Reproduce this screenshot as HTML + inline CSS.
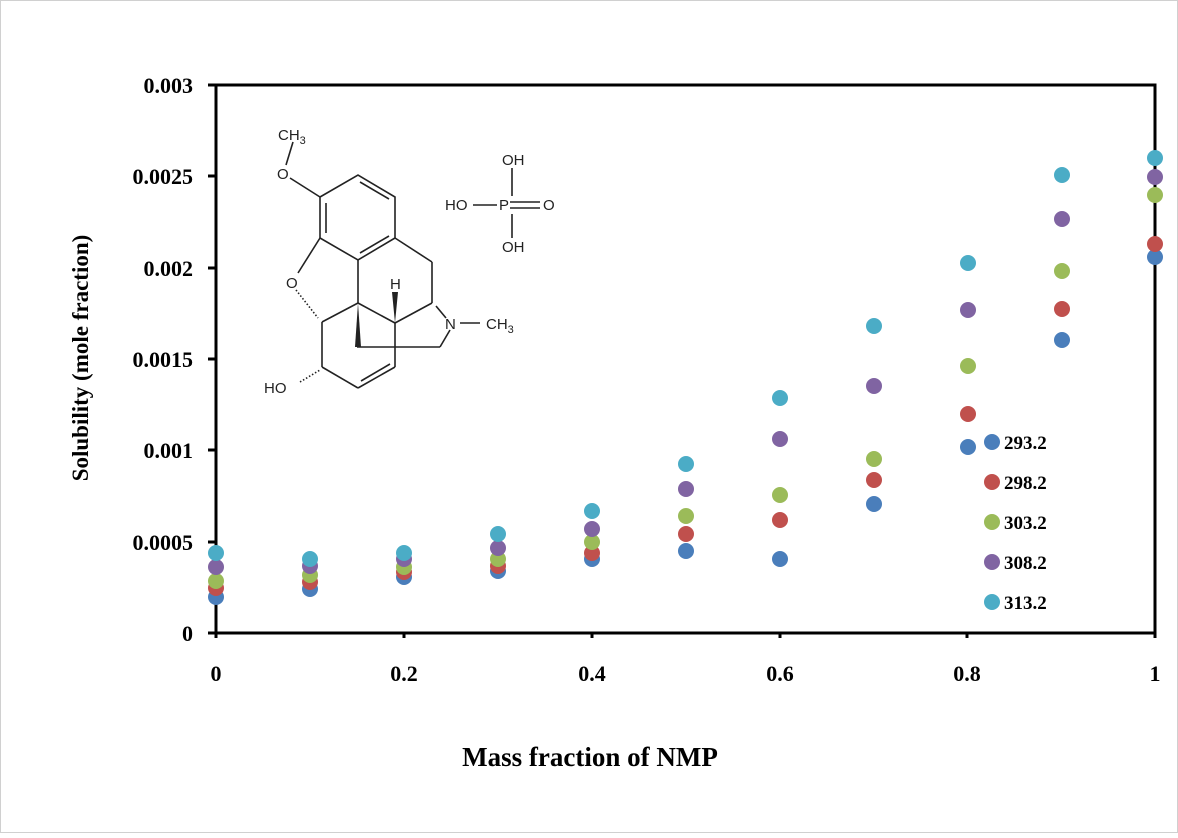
<!DOCTYPE html>
<html><head><style>body{margin:0;background:#fff}</style></head><body>
<svg width="1178" height="833" xmlns="http://www.w3.org/2000/svg" font-family="Liberation Serif, serif">
<rect x="0.5" y="0.5" width="1177" height="832" fill="#fff" stroke="#d0d0d0"/>
<rect x="216" y="85" width="939" height="548" fill="none" stroke="#000" stroke-width="3"/>
<g stroke="#000" stroke-width="3">
<line x1="208" y1="85" x2="216" y2="85"/><line x1="208" y1="176" x2="216" y2="176"/><line x1="208" y1="268" x2="216" y2="268"/><line x1="208" y1="359" x2="216" y2="359"/><line x1="208" y1="450" x2="216" y2="450"/><line x1="208" y1="542" x2="216" y2="542"/><line x1="208" y1="633" x2="216" y2="633"/>
<line x1="216" y1="633" x2="216" y2="638"/><line x1="404" y1="633" x2="404" y2="638"/><line x1="592" y1="633" x2="592" y2="638"/><line x1="780" y1="633" x2="780" y2="638"/><line x1="967" y1="633" x2="967" y2="638"/><line x1="1155" y1="633" x2="1155" y2="638"/>
</g>
<g font-size="22" font-weight="bold" text-anchor="end">
<text x="193" y="93">0.003</text><text x="193" y="184">0.0025</text><text x="193" y="276">0.002</text><text x="193" y="367">0.0015</text><text x="193" y="458">0.001</text><text x="193" y="550">0.0005</text><text x="193" y="641">0</text>
</g>
<g font-size="22" font-weight="bold" text-anchor="middle">
<text x="216" y="681">0</text><text x="404" y="681">0.2</text><text x="592" y="681">0.4</text><text x="780" y="681">0.6</text><text x="967" y="681">0.8</text><text x="1155" y="681">1</text>
</g>
<text x="590" y="766" font-size="27" font-weight="bold" text-anchor="middle">Mass fraction of NMP</text>
<text transform="translate(88,358) rotate(-90)" font-size="23" font-weight="bold" text-anchor="middle">Solubility (mole fraction)</text>
<g stroke="#222" stroke-width="1.6" fill="none">
<line x1="293" y1="142" x2="286" y2="165"/>
<line x1="290" y1="178" x2="320" y2="197"/>
<polygon points="320,197 358,175 395,197 395,238 358,260 320,238"/>
<line x1="326" y1="203" x2="326" y2="233"/><line x1="360" y1="182" x2="389" y2="199"/><line x1="360" y1="253" x2="389" y2="236"/>
<line x1="320" y1="238" x2="298" y2="273"/>
<line x1="395" y1="238" x2="432" y2="262"/><line x1="432" y1="262" x2="432" y2="303"/>
<line x1="358" y1="260" x2="358" y2="303"/>
<line x1="358" y1="303" x2="322" y2="322"/><line x1="358" y1="303" x2="395" y2="323"/>
<line x1="395" y1="323" x2="432" y2="303"/><line x1="436" y1="306" x2="446" y2="318"/>
<line x1="395" y1="323" x2="395" y2="367"/>
<line x1="357" y1="347" x2="440" y2="347"/><line x1="440" y1="347" x2="450" y2="330"/>
<line x1="322" y1="322" x2="322" y2="367"/>
<line x1="322" y1="367" x2="358" y2="388"/><line x1="358" y1="388" x2="395" y2="367"/><line x1="361" y1="381" x2="390" y2="364"/>
<line x1="460" y1="323" x2="480" y2="323"/>
<line x1="512" y1="168" x2="512" y2="196"/><line x1="473" y1="205" x2="497" y2="205"/>
<line x1="510" y1="202" x2="540" y2="202"/><line x1="510" y1="208" x2="540" y2="208"/>
<line x1="512" y1="214" x2="512" y2="238"/>
<line x1="296" y1="290" x2="318" y2="318" stroke-dasharray="1.5,2"/>
<line x1="300" y1="382" x2="320" y2="370" stroke-dasharray="1.5,2"/>
</g>
<polygon points="358,303 355,347 361,347" fill="#222"/>
<polygon points="395,323 392,292 398,292" fill="#222"/>
<g font-family="Liberation Sans, sans-serif" font-size="15" fill="#222">
<text x="278" y="140">CH<tspan font-size="11" dy="4">3</tspan></text>
<text x="277" y="179">O</text><text x="286" y="288">O</text>
<text x="390" y="289">H</text><text x="445" y="329">N</text>
<text x="486" y="329">CH<tspan font-size="11" dy="4">3</tspan></text>
<text x="264" y="393">HO</text>
<text x="502" y="165">OH</text><text x="445" y="210">HO</text><text x="499" y="210">P</text><text x="543" y="210">O</text><text x="502" y="252">OH</text>
</g>
<g>
<g fill="#4a7ebb"><circle cx="216" cy="597" r="8"/><circle cx="310" cy="589" r="8"/><circle cx="404" cy="577" r="8"/><circle cx="498" cy="571" r="8"/><circle cx="592" cy="559" r="8"/><circle cx="686" cy="551" r="8"/><circle cx="780" cy="559" r="8"/><circle cx="874" cy="504" r="8"/><circle cx="968" cy="447" r="8"/><circle cx="1062" cy="340" r="8"/><circle cx="1155" cy="257" r="8"/><circle cx="992" cy="442" r="8"/></g>
<g fill="#c0504d"><circle cx="216" cy="588" r="8"/><circle cx="310" cy="582" r="8"/><circle cx="404" cy="572" r="8"/><circle cx="498" cy="566" r="8"/><circle cx="592" cy="553" r="8"/><circle cx="686" cy="534" r="8"/><circle cx="780" cy="520" r="8"/><circle cx="874" cy="480" r="8"/><circle cx="968" cy="414" r="8"/><circle cx="1062" cy="309" r="8"/><circle cx="1155" cy="244" r="8"/><circle cx="992" cy="482" r="8"/></g>
<g fill="#9bbb59"><circle cx="216" cy="581" r="8"/><circle cx="310" cy="575" r="8"/><circle cx="404" cy="567" r="8"/><circle cx="498" cy="559" r="8"/><circle cx="592" cy="542" r="8"/><circle cx="686" cy="516" r="8"/><circle cx="780" cy="495" r="8"/><circle cx="874" cy="459" r="8"/><circle cx="968" cy="366" r="8"/><circle cx="1062" cy="271" r="8"/><circle cx="1155" cy="195" r="8"/><circle cx="992" cy="522" r="8"/></g>
<g fill="#8064a2"><circle cx="216" cy="567" r="8"/><circle cx="310" cy="566" r="8"/><circle cx="404" cy="559" r="8"/><circle cx="498" cy="548" r="8"/><circle cx="592" cy="529" r="8"/><circle cx="686" cy="489" r="8"/><circle cx="780" cy="439" r="8"/><circle cx="874" cy="386" r="8"/><circle cx="968" cy="310" r="8"/><circle cx="1062" cy="219" r="8"/><circle cx="1155" cy="177" r="8"/><circle cx="992" cy="562" r="8"/></g>
<g fill="#4bacc6"><circle cx="216" cy="553" r="8"/><circle cx="310" cy="559" r="8"/><circle cx="404" cy="553" r="8"/><circle cx="498" cy="534" r="8"/><circle cx="592" cy="511" r="8"/><circle cx="686" cy="464" r="8"/><circle cx="780" cy="398" r="8"/><circle cx="874" cy="326" r="8"/><circle cx="968" cy="263" r="8"/><circle cx="1062" cy="175" r="8"/><circle cx="1155" cy="158" r="8"/><circle cx="992" cy="602" r="8"/></g>
</g>
<g font-size="19" font-weight="bold">
<text x="1004" y="449">293.2</text><text x="1004" y="489">298.2</text><text x="1004" y="529">303.2</text><text x="1004" y="569">308.2</text><text x="1004" y="609">313.2</text>
</g>
</svg>
</body></html>
